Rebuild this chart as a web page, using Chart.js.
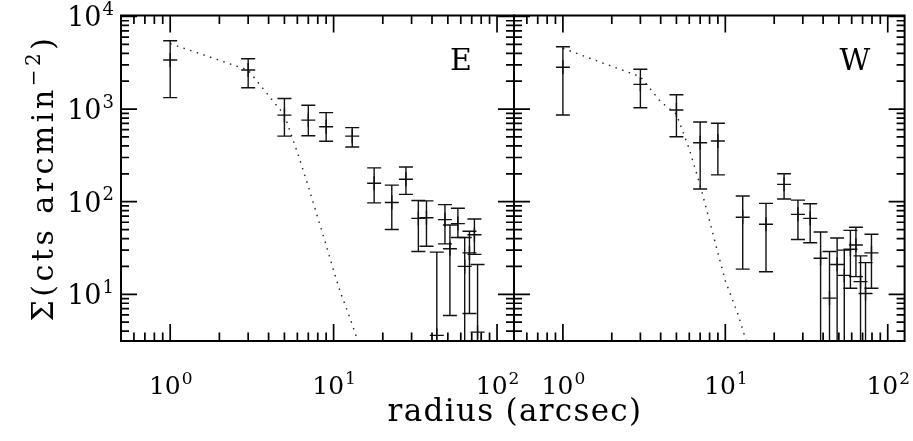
<!DOCTYPE html>
<html>
<head>
<meta charset="utf-8">
<script src="https://cdn.jsdelivr.net/npm/chart.js@4/dist/chart.umd.min.js"></script>
<style>
  html, body { margin: 0; background: #fff; }
  #wrap { position: relative; width: 913px; height: 441px; }
  #wrap canvas { position: absolute; left: 0; top: 0; }
</style>
</head>
<body>
<div id="wrap">
  <canvas id="east" width="913" height="441"></canvas>
  <canvas id="west" width="913" height="441"></canvas>
</div>
<script>
// E side: radius (arcsec), surface brightness and error range
const eastR   = [1, 3, 5, 7, 9, 13, 17.7, 22.7, 27.7, 33, 37, 42.8, 48, 51.5, 57.6, 63.4, 67.8, 72.7, 76];
const eastVal = [3390, 2640, 860, 760, 645, 510, 158, 98, 175, 66, 67, 3.6, 64, 31, 58, 20, 28, 44, 3.9];
const eastLo  = [1330, 1700, 510, 515, 450, 390, 97, 50, 120, 29, 33, 1, 35, 5.9, 41, 1, 6.2, 27, 1];
const eastHi  = [5480, 3500, 1300, 1100, 915, 630, 232, 151, 237, 103, 102, 28.5, 93, 56, 85, 41, 48, 65, 21];

// W side
const westR   = [1, 3, 5, 7, 9, 12.8, 17.8, 23, 28, 33.3, 38.6, 43.8, 48.8, 54, 58.9, 63.7, 68, 73, 79.4];
const westVal = [2830, 1850, 977, 433, 452, 68, 57, 154, 73, 66, 24.5, 9.1, 21, 16, 30.6, 34, 13.7, 10.2, 28];
const westLo  = [863, 1035, 503, 137, 195, 18.7, 17.5, 107, 39, 36, 1, 1, 1, 1, 11.6, 15.5, 1, 1, 11.6];
const westHi  = [4720, 2690, 1430, 726, 702, 115, 96, 200, 104, 95, 47, 29, 40.5, 30, 49, 53, 26, 22, 44.5];

// dotted model profile
const modelR    = [1, 2, 3, 4, 5, 6, 7, 8, 9, 10, 11, 12, 13, 14];
const eastModel = [5100, 3370, 2640, 1400, 863, 341, 147, 67, 34, 18, 10.5, 7, 4.7, 3.2];
const westModel = [4530, 2900, 2240, 1200, 880, 370, 150, 62, 28, 14, 9, 6, 3.8, 2.6];

const xTicks = [1, 10, 100];
const yTicks = [10, 100, 1000, 10000];
const xLabel = 'radius (arcsec)';
const yLabel = 'Σ(cts arcmin';

const SERIF = "'DejaVu Serif', serif";

function powText(ctx, exp, x, y, size, align) {
  ctx.font = size + 'px ' + SERIF;
  const wb = ctx.measureText('10').width;
  const supSize = Math.round(size * 0.66);
  ctx.font = supSize + 'px ' + SERIF;
  const ws = ctx.measureText(String(exp)).width;
  let x0 = align === 'right' ? x - wb - ws : x - (wb + ws) / 2;
  ctx.textAlign = 'left';
  ctx.textBaseline = 'alphabetic';
  ctx.font = size + 'px ' + SERIF;
  ctx.fillText('10', x0, y);
  ctx.font = supSize + 'px ' + SERIF;
  ctx.fillText(String(exp), x0 + wb + 1, y - size * 0.42);
}

function tickList(min, max) {
  const major = [], minor = [];
  for (let d = 0.01; d <= max * 10; d *= 10) {
    for (let k = 1; k <= 9; k++) {
      const v = +(k * d).toPrecision(3);
      if (v < min * 0.999 || v > max * 1.001) continue;
      (k === 1 ? major : minor).push(v);
    }
  }
  return { major, minor };
}

const panelPlugin = {
  id: 'panel',
  afterDatasetsDraw(chart, args, o) {
    const { ctx, chartArea: a, scales: { x, y } } = chart;
    ctx.save();
    ctx.beginPath();
    ctx.rect(a.left, a.top, a.right - a.left, a.bottom - a.top);
    ctx.clip();
    ctx.strokeStyle = '#111';
    ctx.lineWidth = 1.4;
    o.r.forEach((r, i) => {
      const px = x.getPixelForValue(r);
      const pLo = y.getPixelForValue(o.lo[i]);
      const pHi = y.getPixelForValue(o.hi[i]);
      ctx.beginPath();
      ctx.moveTo(px, pLo); ctx.lineTo(px, pHi);
      ctx.moveTo(px - 7, pLo); ctx.lineTo(px + 7, pLo);
      ctx.moveTo(px - 7, pHi); ctx.lineTo(px + 7, pHi);
      ctx.stroke();
    });
    ctx.restore();
  },
  afterDraw(chart, args, o) {
    const { ctx, chartArea: a, scales: { x, y } } = chart;
    ctx.save();
    ctx.strokeStyle = '#000';
    ctx.lineWidth = 1.7;
    const xt = tickList(x.min, x.max), yt = tickList(y.min, y.max);
    ctx.beginPath();
    xt.major.forEach(v => {
      const p = x.getPixelForValue(v);
      ctx.moveTo(p, a.bottom); ctx.lineTo(p, a.bottom - 17);
      ctx.moveTo(p, a.top); ctx.lineTo(p, a.top + 17);
    });
    xt.minor.forEach(v => {
      const p = x.getPixelForValue(v);
      ctx.moveTo(p, a.bottom); ctx.lineTo(p, a.bottom - 8.5);
      ctx.moveTo(p, a.top); ctx.lineTo(p, a.top + 8.5);
    });
    yt.major.forEach(v => {
      const p = y.getPixelForValue(v);
      ctx.moveTo(a.left, p); ctx.lineTo(a.left + 16, p);
      ctx.moveTo(a.right, p); ctx.lineTo(a.right - 16, p);
    });
    yt.minor.forEach(v => {
      const p = y.getPixelForValue(v);
      ctx.moveTo(a.left, p); ctx.lineTo(a.left + 8, p);
      ctx.moveTo(a.right, p); ctx.lineTo(a.right - 8, p);
    });
    ctx.stroke();
    ctx.lineWidth = 2;
    ctx.strokeRect(a.left, a.top, a.right - a.left, a.bottom - a.top);

    ctx.fillStyle = '#000';
    xTicks.forEach(v => powText(ctx, Math.round(Math.log10(v)), x.getPixelForValue(v), 394, 25, 'center'));
    if (o.showY) {
      yTicks.forEach(v => powText(ctx, Math.round(Math.log10(v)), 113, y.getPixelForValue(v) + 10, 27, 'right'));
      // y title, rotated
      ctx.save();
      ctx.translate(53, 178);
      ctx.rotate(-Math.PI / 2);
      ctx.letterSpacing = '3.5px';
      ctx.font = '30px ' + SERIF;
      const w1 = ctx.measureText(yLabel).width;
      ctx.font = '20px ' + SERIF;
      const w2 = ctx.measureText('−2').width;
      ctx.font = '30px ' + SERIF;
      const w3 = ctx.measureText(')').width;
      let s = -(w1 + w2 + w3) / 2;
      ctx.textAlign = 'left';
      ctx.fillText(yLabel, s, 0);
      ctx.font = '20px ' + SERIF;
      ctx.fillText('−2', s + w1, -13);
      ctx.font = '30px ' + SERIF;
      ctx.fillText(')', s + w1 + w2, 0);
      ctx.restore();
      // x title
      ctx.save();
      ctx.letterSpacing = '1.3px';
      ctx.font = '31px ' + SERIF;
      ctx.textAlign = 'center';
      ctx.fillText(xLabel, 515, 421);
      ctx.restore();
    }
    ctx.font = '30px ' + SERIF;
    ctx.textAlign = 'center';
    ctx.fillText(o.tag, o.tagX, 70);
    ctx.restore();
  }
};

function makePanel(id, pad, r, val, lo, hi, model, tag, tagX, showY) {
  return new Chart(document.getElementById(id), {
    type: 'scatter',
    data: {
      datasets: [
        {
          data: modelR.map((v, i) => ({ x: v, y: model[i] })),
          showLine: true,
          borderColor: '#222',
          borderWidth: 1.4,
          borderDash: [1.5, 5.5],
          pointRadius: 0
        },
        {
          data: r.map((v, i) => ({ x: v, y: val[i] })),
          pointStyle: 'cross',
          pointRadius: 7,
          borderColor: '#111',
          borderWidth: 1.4,
          backgroundColor: '#111'
        }
      ]
    },
    options: {
      responsive: false,
      animation: false,
      devicePixelRatio: 1,
      layout: { padding: pad },
      plugins: {
        legend: { display: false },
        tooltip: { enabled: false },
        panel: { r, lo, hi, tag, tagX, showY }
      },
      scales: {
        x: { type: 'logarithmic', min: 0.5, max: 127, display: false },
        y: { type: 'logarithmic', min: 3.13, max: 10250, display: false }
      }
    },
    plugins: [panelPlugin]
  });
}

makePanel('east', { left: 121, right: 399, top: 15.5, bottom: 100 },
  eastR, eastVal, eastLo, eastHi, eastModel, 'E', 461, true);
makePanel('west', { left: 514, right: 6, top: 15.5, bottom: 100 },
  westR, westVal, westLo, westHi, westModel, 'W', 855, false);
</script>
</body>
</html>
